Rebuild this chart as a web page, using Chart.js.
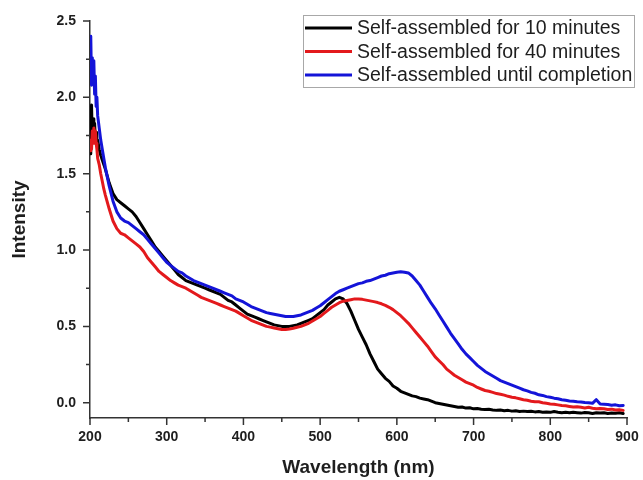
<!DOCTYPE html>
<html>
<head>
<meta charset="utf-8">
<script src="https://cdn.jsdelivr.net/npm/chart.js@4.4.0/dist/chart.umd.min.js"></script>
<style>
  html, body { margin: 0; padding: 0; background: #fff; }
  #wrap { width: 643px; height: 480px; position: relative; }
</style>
</head>
<body>
<div id="wrap"><canvas id="c" width="643" height="480"></canvas></div>
<script>
// Absorbance spectra of the self-assembled samples (wavelength in nm)
const wavelengths = [
  200,201,202,203,204,205,206,207,208,209,210,212,214,216,218,
  220,225,230,235,240,245,250,255,260,265,
  270,275,280,285,290,295,300,305,310,315,
  320,325,330,335,340,345,350,355,360,365,
  370,375,380,385,390,395,400,405,410,415,
  420,425,430,435,440,445,450,455,460,465,
  470,475,480,485,490,495,500,505,510,515,
  520,525,530,535,540,545,550,555,560,565,
  570,575,580,585,590,595,600,605,610,615,
  620,625,630,635,640,645,650,655,660,665,
  670,675,680,685,690,695,700,705,710,715,
  720,725,730,735,740,745,750,755,760,765,
  770,775,780,785,790,795,800,805,810,815,
  820,825,830,835,840,845,850,855,860,865,
  870,875,880,885,890,895
];

const tenMinutes = [
  1.63,1.70,1.95,1.72,1.86,1.76,1.83,1.73,1.77,1.70,1.72,1.66,1.62,1.59,1.56,
  1.53,1.44,1.37,1.33,1.31,1.29,1.27,1.25,1.22,1.18,
  1.14,1.10,1.06,1.02,0.99,0.96,0.93,0.90,0.87,0.84,
  0.82,0.80,0.79,0.78,0.77,0.76,0.75,0.74,0.73,0.72,
  0.71,0.69,0.67,0.66,0.64,0.62,0.60,0.58,0.57,0.56,
  0.55,0.54,0.53,0.52,0.51,0.505,0.50,0.50,0.50,0.505,
  0.51,0.52,0.53,0.54,0.55,0.57,0.59,0.61,0.64,0.66,
  0.68,0.69,0.68,0.65,0.60,0.54,0.48,0.43,0.38,0.32,
  0.27,0.22,0.19,0.16,0.14,0.11,0.095,0.075,0.065,0.055,
  0.045,0.04,0.03,0.025,0.02,0.01,0.0,-0.005,-0.01,-0.015,
  -0.02,-0.025,-0.03,-0.028,-0.035,-0.033,-0.04,-0.038,-0.042,-0.045,
  -0.043,-0.047,-0.05,-0.048,-0.052,-0.05,-0.055,-0.053,-0.057,-0.055,
  -0.058,-0.056,-0.06,-0.058,-0.062,-0.06,-0.063,-0.058,-0.062,-0.065,
  -0.063,-0.066,-0.062,-0.065,-0.068,-0.064,-0.066,-0.07,-0.065,-0.068,
  -0.066,-0.07,-0.067,-0.069,-0.065,-0.07
];

const fortyMinutes = [
  1.65,1.72,1.66,1.78,1.70,1.80,1.74,1.78,1.70,1.66,1.60,1.56,1.50,1.45,1.40,
  1.36,1.27,1.19,1.14,1.11,1.10,1.08,1.06,1.04,1.02,
  0.99,0.95,0.92,0.89,0.86,0.84,0.82,0.80,0.785,0.77,
  0.76,0.75,0.735,0.72,0.705,0.69,0.68,0.67,0.66,0.65,
  0.64,0.63,0.62,0.61,0.60,0.585,0.57,0.555,0.54,0.53,
  0.52,0.51,0.50,0.495,0.49,0.485,0.48,0.48,0.483,0.488,
  0.494,0.50,0.51,0.52,0.535,0.55,0.565,0.585,0.605,0.625,
  0.64,0.655,0.665,0.67,0.675,0.68,0.68,0.677,0.672,0.667,
  0.662,0.656,0.648,0.638,0.625,0.61,0.59,0.57,0.545,0.52,
  0.49,0.46,0.43,0.40,0.37,0.335,0.30,0.275,0.25,0.22,
  0.20,0.18,0.165,0.15,0.135,0.125,0.115,0.10,0.09,0.08,
  0.075,0.068,0.06,0.056,0.05,0.042,0.036,0.032,0.026,0.02,
  0.016,0.01,0.006,0.006,0.0,-0.004,-0.008,-0.01,-0.014,-0.018,
  -0.02,-0.024,-0.028,-0.026,-0.03,-0.034,-0.03,-0.036,-0.04,-0.038,
  -0.04,-0.044,-0.042,-0.048,-0.046,-0.05
];

const untilCompletion = [
  2.25,2.40,2.08,2.26,2.12,2.24,2.02,2.14,1.94,2.00,1.88,1.80,1.72,1.66,1.60,
  1.54,1.42,1.32,1.25,1.21,1.19,1.18,1.16,1.14,1.12,
  1.10,1.07,1.04,1.01,0.98,0.95,0.92,0.90,0.88,0.86,
  0.85,0.83,0.815,0.80,0.79,0.78,0.77,0.76,0.75,0.74,
  0.73,0.72,0.71,0.70,0.68,0.67,0.66,0.645,0.63,0.62,
  0.61,0.60,0.59,0.585,0.58,0.575,0.57,0.565,0.565,0.565,
  0.57,0.575,0.585,0.595,0.605,0.62,0.635,0.655,0.675,0.695,
  0.715,0.73,0.74,0.75,0.76,0.77,0.78,0.785,0.795,0.80,
  0.81,0.82,0.83,0.835,0.845,0.85,0.855,0.858,0.855,0.85,
  0.83,0.80,0.77,0.73,0.69,0.65,0.615,0.575,0.535,0.495,
  0.455,0.42,0.385,0.35,0.32,0.295,0.27,0.245,0.225,0.205,
  0.19,0.175,0.16,0.145,0.135,0.125,0.115,0.105,0.095,0.085,
  0.078,0.068,0.062,0.052,0.048,0.04,0.036,0.03,0.026,0.02,
  0.016,0.012,0.01,0.006,0.005,0.001,0.0,-0.004,0.02,-0.008,
  -0.01,-0.012,-0.016,-0.014,-0.02,-0.018
];

const seriesLabels = [
  'Self-assembled for 10 minutes',
  'Self-assembled for 40 minutes',
  'Self-assembled until completion'
];
const seriesColors = ['#000000', '#e3191c', '#1414d8'];

const xMajorTicks = [200, 300, 400, 500, 600, 700, 800, 900];
const xMinorTicks = [250, 350, 450, 550, 650, 750, 850];
const yMajorTicks = [0.0, 0.5, 1.0, 1.5, 2.0, 2.5];
const yMinorTicks = [0.25, 0.75, 1.25, 1.75, 2.25];

const FONT = "'Liberation Sans', Arial, Helvetica, sans-serif";
const AXIS_COLOR = '#333333';
const TEXT_COLOR = '#1e1e1e';

function toPoints(values) {
  return wavelengths.map((w, i) => ({ x: w, y: values[i] }));
}

// Outward tick marks: long for major values, short for minor ones
const tickMarks = {
  id: 'tickMarks',
  afterDraw(chart) {
    const { ctx, chartArea, scales } = chart;
    ctx.save();
    ctx.strokeStyle = AXIS_COLOR;
    ctx.lineWidth = 1.5;
    ctx.beginPath();
    xMajorTicks.forEach(v => {
      const px = scales.x.getPixelForValue(v);
      ctx.moveTo(px, chartArea.bottom); ctx.lineTo(px, chartArea.bottom + 7);
    });
    xMinorTicks.forEach(v => {
      const px = scales.x.getPixelForValue(v);
      ctx.moveTo(px, chartArea.bottom); ctx.lineTo(px, chartArea.bottom + 4);
    });
    yMajorTicks.forEach(v => {
      const py = scales.y.getPixelForValue(v);
      ctx.moveTo(chartArea.left, py); ctx.lineTo(chartArea.left - 7, py);
    });
    yMinorTicks.forEach(v => {
      const py = scales.y.getPixelForValue(v);
      ctx.moveTo(chartArea.left, py); ctx.lineTo(chartArea.left - 4, py);
    });
    ctx.stroke();
    ctx.restore();
  }
};

// Boxed legend in the upper right of the plot
const boxedLegend = {
  id: 'boxedLegend',
  afterDraw(chart) {
    const ctx = chart.ctx;
    const box = { x: 303.5, y: 15.5, w: 331, h: 72 };
    ctx.save();
    ctx.fillStyle = '#ffffff';
    ctx.fillRect(box.x, box.y, box.w, box.h);
    ctx.strokeStyle = '#a8a8a8';
    ctx.lineWidth = 1;
    ctx.strokeRect(box.x, box.y, box.w, box.h);
    ctx.font = '19.5px ' + FONT;
    ctx.textBaseline = 'middle';
    ctx.textAlign = 'left';
    chart.data.datasets.forEach((ds, i) => {
      const rowY = 28 + i * 23.5;
      ctx.strokeStyle = ds.borderColor;
      ctx.lineWidth = 3;
      ctx.beginPath();
      ctx.moveTo(305, rowY);
      ctx.lineTo(352, rowY);
      ctx.stroke();
      ctx.fillStyle = TEXT_COLOR;
      ctx.fillText(ds.label, 357, rowY + 1);
    });
    ctx.restore();
  }
};

new Chart(document.getElementById('c'), {
  type: 'line',
  data: {
    datasets: [
      { label: seriesLabels[0], data: toPoints(tenMinutes), borderColor: seriesColors[0], order: 2 },
      { label: seriesLabels[1], data: toPoints(fortyMinutes), borderColor: seriesColors[1], order: 1 },
      { label: seriesLabels[2], data: toPoints(untilCompletion), borderColor: seriesColors[2], order: 0 }
    ]
  },
  options: {
    responsive: false,
    devicePixelRatio: 1,
    animation: false,
    events: [],
    layout: { padding: { left: 0, right: 16, top: 21, bottom: 0 } },
    elements: {
      line: { borderWidth: 3, tension: 0, fill: false, borderJoinStyle: 'round', borderCapStyle: 'round' },
      point: { radius: 0 }
    },
    plugins: {
      legend: { display: false },
      tooltip: { enabled: false },
      title: { display: false }
    },
    scales: {
      x: {
        type: 'linear',
        min: 200,
        max: 900,
        afterBuildTicks(scale) { scale.ticks = xMajorTicks.map(v => ({ value: v })); },
        afterFit(scale) {
          scale.height = 62;
          scale.paddingLeft = 0;
          scale.paddingRight = 0;
        },
        grid: { display: false, drawTicks: false },
        border: { display: true, color: AXIS_COLOR, width: 1.5 },
        ticks: {
          autoSkip: false, maxRotation: 0, padding: 11,
          color: TEXT_COLOR,
          font: { family: FONT, size: 14, weight: 'bold' },
          callback: v => String(v)
        },
        title: {
          display: true, text: 'Wavelength (nm)', color: TEXT_COLOR,
          font: { family: FONT, size: 19, weight: 'bold' },
          padding: { top: 0, bottom: 1 }
        }
      },
      y: {
        type: 'linear',
        min: -0.1,
        max: 2.5,
        afterBuildTicks(scale) { scale.ticks = yMajorTicks.map(v => ({ value: v })); },
        afterFit(scale) {
          scale.width = 90;
          scale.paddingTop = 0;
          scale.paddingBottom = 0;
        },
        grid: { display: false, drawTicks: false },
        border: { display: true, color: AXIS_COLOR, width: 1.5 },
        ticks: {
          autoSkip: false, padding: 14,
          color: TEXT_COLOR,
          font: { family: FONT, size: 14, weight: 'bold' },
          callback: v => Number(v).toFixed(1)
        },
        title: {
          display: true, text: 'Intensity', color: TEXT_COLOR,
          font: { family: FONT, size: 19, weight: 'bold' },
          padding: { top: 8, bottom: 0 }
        }
      }
    }
  },
  plugins: [tickMarks, boxedLegend]
});
</script>
</body>
</html>
